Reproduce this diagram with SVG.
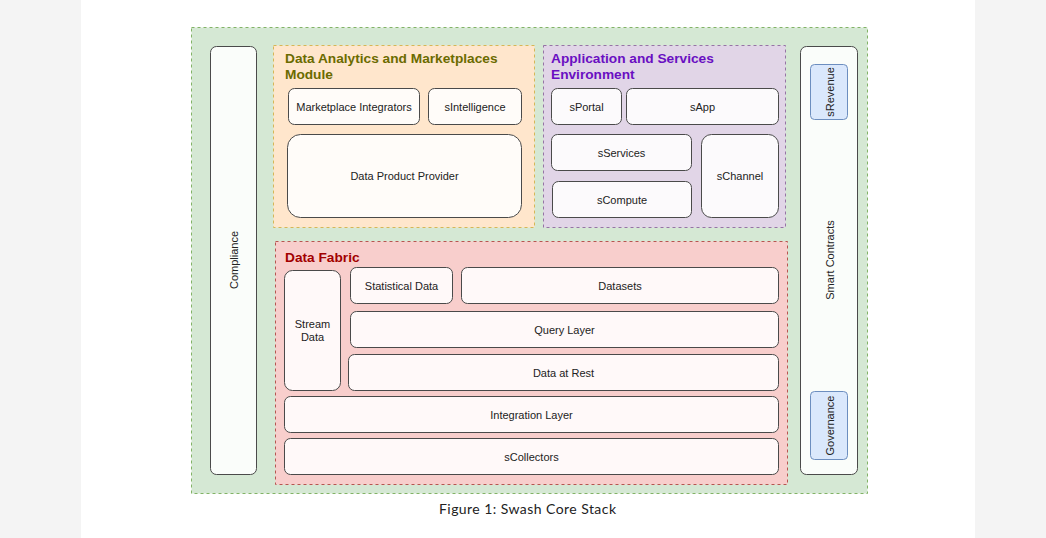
<svg xmlns="http://www.w3.org/2000/svg" width="1046" height="538" viewBox="0 0 1046 538">
<style>
.node{fill:#ffffff;fill-opacity:0.88;stroke:#4a4a4a;stroke-width:1}
.lbl{font-family:"Liberation Sans",Arial,sans-serif;font-size:11px;fill:#222;text-anchor:middle;dominant-baseline:central}
.title{font-family:"Liberation Sans",Arial,sans-serif;font-size:13.7px;font-weight:bold}
.blue{fill:#dae8fc;stroke:#6c8ebf;stroke-width:1}
</style>
<rect x="0" y="0" width="1046" height="538" fill="#f4f4f4"/>
<rect x="81" y="0" width="894" height="538" fill="#ffffff"/>

<g id="outer">
<rect x="191.5" y="27.5" width="676" height="466" fill="#d5e8d4" stroke="#82b366" stroke-dasharray="3 3"/>
</g>

<g id="compliance">
<rect x="210.5" y="46.5" width="46" height="428" rx="6" class="node"/>
<text class="lbl" transform="translate(233.5 260) rotate(-90)">Compliance</text>
</g>

<g id="analytics">
<rect x="273.5" y="45.5" width="261" height="182" fill="#ffe6cc" stroke="#d6b656" stroke-dasharray="3 3"/>
<text class="title" fill="#6b6b00" x="285" y="63">Data Analytics and Marketplaces</text>
<text class="title" fill="#6b6b00" x="285" y="79">Module</text>
</g>
<g id="marketplace-integrators">
<rect x="288.5" y="88.5" width="131" height="36" rx="6" class="node"/>
<text class="lbl" x="354" y="106.5">Marketplace Integrators</text>
</g>
<g id="sintelligence">
<rect x="428.5" y="88.5" width="93" height="36" rx="6" class="node"/>
<text class="lbl" x="475" y="106.5">sIntelligence</text>
</g>
<g id="data-product-provider">
<rect x="287.5" y="134.5" width="234" height="83" rx="13" class="node"/>
<text class="lbl" x="404.5" y="176">Data Product Provider</text>
</g>

<g id="appenv">
<rect x="543.5" y="45.5" width="242" height="182" fill="#e1d5e7" stroke="#9673a6" stroke-dasharray="3 3"/>
<text class="title" fill="#6a0fc2" x="551" y="63">Application and Services</text>
<text class="title" fill="#6a0fc2" x="551" y="79">Environment</text>
</g>
<g id="sportal">
<rect x="551.5" y="88.5" width="70" height="36" rx="6" class="node"/>
<text class="lbl" x="586.5" y="106.5">sPortal</text>
</g>
<g id="sapp">
<rect x="626.5" y="88.5" width="152" height="36" rx="6" class="node"/>
<text class="lbl" x="702.5" y="106.5">sApp</text>
</g>
<g id="sservices">
<rect x="551.5" y="134.5" width="140" height="36" rx="6" class="node"/>
<text class="lbl" x="621.5" y="152.5">sServices</text>
</g>
<g id="scompute">
<rect x="552.5" y="181.5" width="139" height="36" rx="6" class="node"/>
<text class="lbl" x="622" y="199.5">sCompute</text>
</g>
<g id="schannel">
<rect x="701.5" y="134.5" width="77" height="83" rx="10" class="node"/>
<text class="lbl" x="740" y="176">sChannel</text>
</g>

<g id="smart-contracts">
<rect x="800.5" y="46.5" width="57" height="428" rx="6" class="node"/>
<text class="lbl" transform="translate(829.5 260) rotate(-90)">Smart Contracts</text>
</g>
<g id="srevenue">
<rect x="810.5" y="64.5" width="37" height="55" rx="4" class="blue"/>
<text class="lbl" transform="translate(829.5 92) rotate(-90)">sRevenue</text>
</g>
<g id="governance">
<rect x="810.5" y="391.5" width="37" height="68" rx="4" class="blue"/>
<text class="lbl" transform="translate(829.5 425.5) rotate(-90)">Governance</text>
</g>

<g id="data-fabric">
<rect x="275.5" y="241.5" width="512" height="243" fill="#f8cecc" stroke="#b85450" stroke-dasharray="3 3"/>
<text class="title" fill="#a20000" x="285" y="262">Data Fabric</text>
</g>
<g id="stream-data">
<rect x="284.5" y="270.5" width="56" height="120" rx="8" class="node"/>
<text class="lbl" x="312.5" y="324">Stream</text>
<text class="lbl" x="312.5" y="337">Data</text>
</g>
<g id="statistical-data">
<rect x="350.5" y="267.5" width="102" height="36" rx="6" class="node"/>
<text class="lbl" x="401.5" y="285.5">Statistical Data</text>
</g>
<g id="datasets">
<rect x="461.5" y="267.5" width="317" height="36" rx="6" class="node"/>
<text class="lbl" x="620" y="285.5">Datasets</text>
</g>
<g id="query-layer">
<rect x="350.5" y="311.5" width="428" height="36" rx="6" class="node"/>
<text class="lbl" x="564.5" y="329.5">Query Layer</text>
</g>
<g id="data-at-rest">
<rect x="348.5" y="354.5" width="430" height="36" rx="6" class="node"/>
<text class="lbl" x="563.5" y="372.5">Data at Rest</text>
</g>
<g id="integration-layer">
<rect x="284.5" y="396.5" width="494" height="36" rx="6" class="node"/>
<text class="lbl" x="531.5" y="414.5">Integration Layer</text>
</g>
<g id="scollectors">
<rect x="284.5" y="438.5" width="494" height="36" rx="6" class="node"/>
<text class="lbl" x="531.5" y="456.5">sCollectors</text>
</g>

<g id="connectors"></g>

<text x="527.5" y="514" font-family="Lato,'Open Sans',sans-serif" font-size="14" fill="#222" text-anchor="middle" textLength="177" lengthAdjust="spacing">Figure 1: Swash Core Stack</text>
</svg>
